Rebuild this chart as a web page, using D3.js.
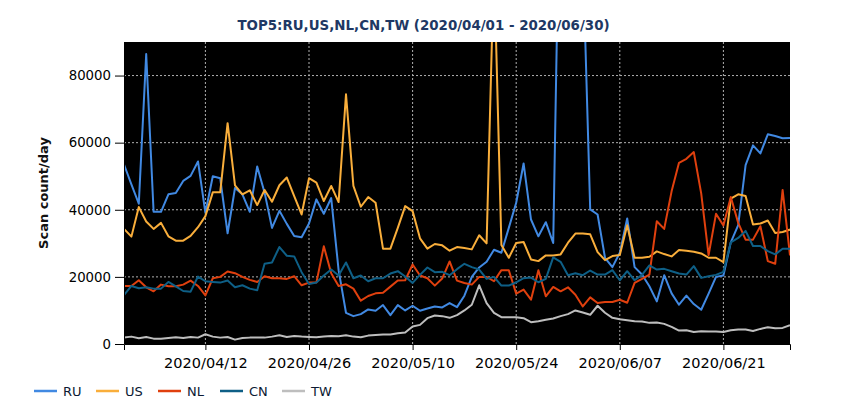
<!DOCTYPE html>
<html>
<head>
<meta charset="utf-8">
<script src="https://cdn.jsdelivr.net/npm/d3@7"></script>
<style>
  html, body { margin: 0; padding: 0; background: #fff; }
  svg { display: block; font-family: "DejaVu Sans", Verdana, sans-serif; }
</style>
</head>
<body>
<svg id="chart" width="850" height="420"></svg>
<script>
const titleText = "TOP5:RU,US,NL,CN,TW (2020/04/01 - 2020/06/30)";
const yLabel = "Scan count/day";
const startDate = "2020-04-01";
const endDate = "2020-06-30";
const seriesNames = ["RU", "US", "NL", "CN", "TW"];
const seriesColors = ["#4189e2", "#f9ae3b", "#e0400e", "#0e5f86", "#bebebe"];
const xTickLabels = ["2020/04/12", "2020/04/26", "2020/05/10", "2020/05/24", "2020/06/07", "2020/06/21"];
const yTickValues = [0, 20000, 40000, 60000, 80000];
const yMax = 90000;

const RU = [53500,47600,41800,86400,39400,39400,44600,45000,48600,50100,
  54400,39100,50000,49400,33000,46500,44600,39400,52900,45100,
  34600,39700,35800,32200,31800,35900,43100,38800,43500,22000,
  9300,8300,8900,10300,9900,11600,8600,11600,10000,11400,
  9900,10600,11200,10900,12200,11000,14400,20000,22800,24500,
  28100,27200,34600,42100,53800,37100,32100,36300,30100,155000,
  150000,140000,116000,40100,38600,25700,22900,27200,37400,22900,
  20700,17200,12700,20500,15100,11700,14400,11900,10200,15000,
  20000,20400,30300,35400,53300,59200,56800,62500,62000,61300,61400];
const US = [34300,32000,40800,36500,34300,36100,32100,30800,30800,32200,
  34800,38100,45200,45200,65800,47300,44600,45800,41400,45900,
  42400,47300,49600,44100,38600,49400,48100,42600,47100,42300,
  74400,47100,40900,43800,42100,28400,28400,34600,41100,39600,
  31500,28400,29800,29400,27800,28900,28600,28200,32400,30000,
  114000,29500,25700,30100,30400,25200,24700,26400,26400,26700,
  30200,32900,32900,32700,27400,25000,26200,26500,35400,25700,
  25700,26000,27600,26800,26100,28000,27800,27500,27000,25700,
  25700,24400,43300,44600,44100,35600,35900,36800,33100,33400,34100];
const NL = [17300,17300,19000,16900,15700,17700,17200,17200,17700,18900,
  17300,14500,19600,20000,21600,21100,20000,19100,18500,20200,
  19600,19600,19400,20200,17500,18300,18300,29100,21100,17300,
  17800,16500,12900,14300,15100,15300,17100,18900,19000,23700,
  20400,19600,17400,19500,24600,18900,18200,17700,20000,20000,
  18700,22000,22000,15000,16200,13200,22000,14200,17000,15700,
  16900,14700,11200,13900,12200,12500,12500,13200,12300,18200,
  19400,20700,36600,34300,45500,54000,55200,57200,44900,26500,
  38800,35300,43800,36100,31100,31100,35100,24700,23900,45900,26400];
const CN = [14600,17300,16600,16900,16500,16500,18500,17200,15800,15600,
  20100,18700,18500,18300,18900,16900,17500,16500,16000,23900,
  24300,28900,26300,26100,21400,17900,18300,20400,22200,20400,
  24300,19600,20400,18700,19600,19600,21000,21700,20100,18200,
  20600,22800,21400,21500,20500,22300,23900,22900,22200,19400,
  20000,17400,17400,18400,19600,19800,18400,19400,25800,24500,
  20500,21100,20500,21900,20700,20700,22000,19000,21700,19000,
  20600,23400,22200,22400,21700,21000,20700,23200,19700,20200,
  20600,21500,30300,31600,33700,29200,29200,27700,26700,28400,28400];
const TW = [1900,2200,1700,2100,1600,1600,1800,2000,1800,2100,
  1900,2900,2200,1900,2100,1300,1800,1900,1900,1900,
  2200,2600,2100,2400,2200,2100,2000,2200,2400,2300,
  2600,2200,2000,2500,2700,2800,2800,3200,3400,5200,
  5700,7700,8500,8300,7800,8600,10000,11700,17500,12200,
  9300,8000,8000,8000,7700,6500,6800,7200,7600,8300,
  8900,10000,9400,8700,11400,9300,7800,7400,7100,6800,
  6700,6300,6400,6000,5100,4000,4100,3600,3800,3700,
  3700,3600,4100,4300,4300,3900,4500,5000,4700,4800,5600];

const seriesValues = [RU, US, NL, CN, TW];

const svg = d3.select("#chart");
const margin = { left: 124, right: 60, top: 42, bottom: 76 };
const W = 850, H = 420;
const iw = W - margin.left - margin.right;
const ih = H - margin.top - margin.bottom;

const parseDay = d3.timeParse("%Y-%m-%d");
const parseTick = d3.timeParse("%Y/%m/%d");
const fmtTick = d3.timeFormat("%Y/%m/%d");
const d0 = parseDay(startDate), d1 = parseDay(endDate);
const dates = d3.timeDay.range(d0, d3.timeDay.offset(d1, 1));

const x = d3.scaleTime().domain([d0, d1]).range([0, iw]);
const y = d3.scaleLinear().domain([0, yMax]).range([ih, 0]);

const g = svg.append("g").attr("transform", `translate(${margin.left},${margin.top})`);

g.append("rect").attr("width", iw).attr("height", ih).attr("fill", "#000");

// grid
const xTickDates = xTickLabels.map(parseTick);
g.append("g").selectAll("line").data(xTickDates).join("line")
  .attr("x1", d => x(d)).attr("x2", d => x(d))
  .attr("y1", 0).attr("y2", ih)
  .attr("stroke", "#b0b0b0").attr("stroke-width", 1).attr("stroke-dasharray", "2,2");
g.append("g").selectAll("line").data(yTickValues.filter(v => v > 0)).join("line")
  .attr("x1", 0).attr("x2", iw)
  .attr("y1", d => y(d)).attr("y2", d => y(d))
  .attr("stroke", "#b0b0b0").attr("stroke-width", 1).attr("stroke-dasharray", "2,2");

svg.append("defs").append("clipPath").attr("id", "clip")
  .append("rect").attr("width", iw).attr("height", ih);

const line = d3.line().x((d, i) => x(dates[i])).y(d => y(d));
const lines = g.append("g").attr("clip-path", "url(#clip)");
seriesValues.forEach((vals, k) => {
  lines.append("path").datum(vals)
    .attr("fill", "none")
    .attr("stroke", seriesColors[k])
    .attr("stroke-width", 2)
    .attr("stroke-linejoin", "round")
    .attr("d", line);
});

// axes
const xAxis = d3.axisBottom(x).tickValues(xTickDates).tickFormat(fmtTick).tickSizeInner(6).tickSizeOuter(6);
const xg = g.append("g").attr("transform", `translate(0,${ih})`).call(xAxis);
xg.selectAll("text").attr("font-size", "14.5px").attr("fill", "#000").attr("dy", "1.05em")
  .attr("font-family", "DejaVu Sans");
xg.select(".domain").attr("stroke", "#000");
xg.selectAll(".tick line").attr("stroke", "#000");

const yAxis = d3.axisLeft(y).tickValues(yTickValues).tickFormat(d3.format("d")).tickSizeInner(9).tickSizeOuter(0);
const yg = g.append("g").call(yAxis);
yg.selectAll("text").attr("font-size", "13.3px").attr("fill", "#000").attr("x", -13)
  .attr("font-family", "DejaVu Sans");
yg.select(".domain").attr("stroke", "#000");
yg.selectAll(".tick line").attr("stroke", "#000");

// title
svg.append("text").attr("x", 423.5).attr("y", 30).attr("text-anchor", "middle")
  .attr("font-size", "13.4px").attr("font-weight", "bold").attr("fill", "#203864")
  .text(titleText);

// y label
svg.append("text").attr("transform", `translate(48,${margin.top + ih / 2}) rotate(-90)`)
  .attr("text-anchor", "middle").attr("font-size", "13px").attr("font-weight", "bold")
  .attr("fill", "#111").text(yLabel);

// legend
const legend = svg.append("g").attr("transform", "translate(34,391)");
seriesNames.forEach((name, k) => {
  const lg = legend.append("g").attr("transform", `translate(${k * 62},0)`);
  lg.append("line").attr("x1", 0).attr("x2", 23).attr("y1", 0).attr("y2", 0)
    .attr("stroke", seriesColors[k]).attr("stroke-width", 2.5);
  lg.append("text").attr("x", 29).attr("y", 0).attr("dy", "0.36em")
    .attr("font-size", "13px").attr("fill", "#0c1a33").text(name);
});
</script>
</body>
</html>
